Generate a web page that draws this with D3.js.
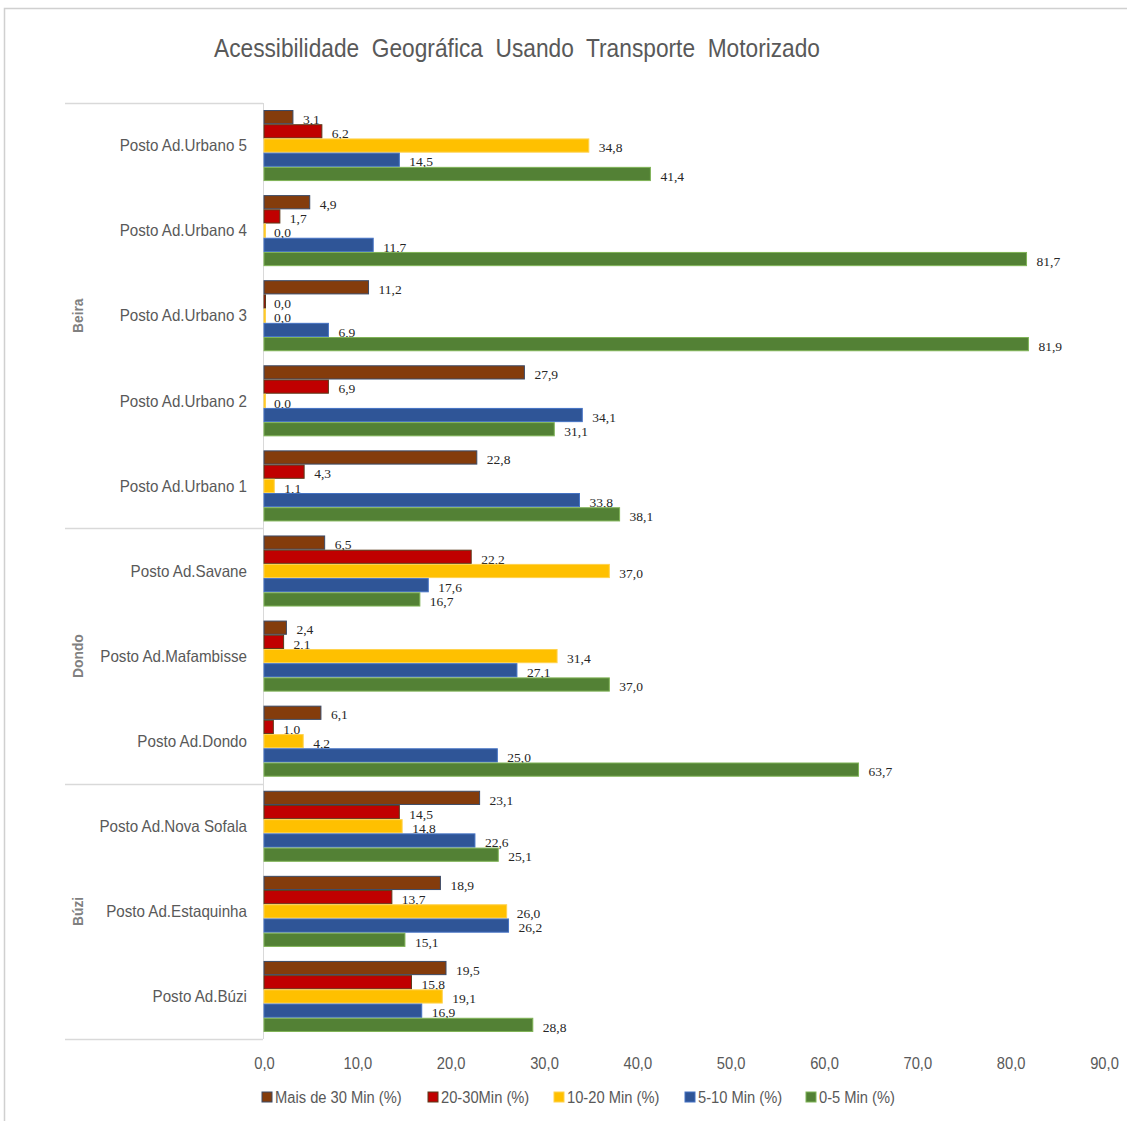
<!DOCTYPE html>
<html><head><meta charset="utf-8">
<script src="https://cdn.jsdelivr.net/npm/d3@7"></script>
<style>
body{margin:0;background:#fff;}
svg{display:block;}
</style></head><body>
<svg id="chart" width="1127" height="1121"></svg>
<script>
const title = "Acessibilidade  Geográfica  Usando  Transporte  Motorizado";
const categories = ["Posto Ad.Urbano 5","Posto Ad.Urbano 4","Posto Ad.Urbano 3","Posto Ad.Urbano 2","Posto Ad.Urbano 1","Posto Ad.Savane","Posto Ad.Mafambisse","Posto Ad.Dondo","Posto Ad.Nova Sofala","Posto Ad.Estaquinha","Posto Ad.Búzi"];
const groups = [{name:"Beira", first:0, last:4},{name:"Dondo", first:5, last:7},{name:"Búzi", first:8, last:10}];
const seriesNames = ["Mais de 30 Min (%)","20-30Min (%)","10-20 Min (%)","5-10 Min (%)","0-5 Min (%)"];
const mais30 = [3.1,4.9,11.2,27.9,22.8,6.5,2.4,6.1,23.1,18.9,19.5];
const min20_30 = [6.2,1.7,0.0,6.9,4.3,22.2,2.1,1.0,14.5,13.7,15.8];
const min10_20 = [34.8,0.0,0.0,0.0,1.1,37.0,31.4,4.2,14.8,26.0,19.1];
const min5_10 = [14.5,11.7,6.9,34.1,33.8,17.6,27.1,25.0,22.6,26.2,16.9];
const min0_5 = [41.4,81.7,81.9,31.1,38.1,16.7,37.0,63.7,25.1,15.1,28.8];
const seriesValues = [mais30,min20_30,min10_20,min5_10,min0_5];
const xTicks = [0,10,20,30,40,50,60,70,80,90];
const colors = ["#843C0C","#C00000","#FFC000","#2F5597","#538135"];
const strokes = ["#3B4A66","#5a3a1a","#FFD24D","#4472C4","#7FB356"];

const svg = d3.select("#chart");
const sans = "'Liberation Sans','Arial',sans-serif";
const grey = "#595959";
const sx = 0.92; // horizontal condensing of sans text

svg.append("rect").attr("x",4.5).attr("y",8.5).attr("width",1130).attr("height",1120)
  .attr("fill","none").attr("stroke","#d0d0d0").attr("stroke-width",1.5);

svg.append("text").attr("x",517).attr("y",57).attr("text-anchor","middle")
  .attr("font-family",sans).attr("font-size",25).attr("fill",grey)
  .attr("textLength",606).attr("lengthAdjust","spacingAndGlyphs")
  .style("white-space","pre").text(title);

const x = d3.scaleLinear().domain([0,90]).range([264,1104]);
const y = d3.scaleBand().domain(categories).range([103,1039]).paddingInner(0.165).paddingOuter(0.0825);
const ys = d3.scaleBand().domain(d3.range(5)).range([0,y.bandwidth()]);

svg.append("line").attr("x1",263.5).attr("x2",263.5).attr("y1",103).attr("y2",1039)
  .attr("stroke","#d9d9d9").attr("stroke-width",1);

const bounds = [103, y(categories[5]) - y.step()*y.paddingInner()/2, y(categories[8]) - y.step()*y.paddingInner()/2, 1039];
bounds.forEach(b=>{
  svg.append("line").attr("x1",65).attr("x2",263).attr("y1",Math.round(b)+0.5).attr("y2",Math.round(b)+0.5)
    .attr("stroke","#d9d9d9").attr("stroke-width",1.5);
});

groups.forEach(g=>{
  const cy = (y(categories[g.first]) + y(categories[g.last]) + y.bandwidth())/2;
  svg.append("text").attr("transform",`translate(83,${cy}) rotate(-90) scale(${sx},1)`).attr("text-anchor","middle")
    .attr("font-family",sans).attr("font-size",15).attr("font-weight","bold").attr("fill","#808080").text(g.name);
});

svg.append("g").attr("transform",`scale(${sx},1)`).selectAll("text").data(categories).join("text")
  .attr("x",247/sx).attr("y",d=>y(d)+y.bandwidth()/2).attr("dy","0.35em").attr("text-anchor","end")
  .attr("font-family",sans).attr("font-size",16.5).attr("fill",grey).text(d=>d);

const gBars = svg.append("g");
seriesValues.forEach((vals,si)=>{
  gBars.append("g").selectAll("rect").data(vals).join("rect")
    .attr("x",x(0)).attr("y",(d,i)=>y(categories[i])+ys(si)+0.5)
    .attr("width",d=>Math.max(x(d)-x(0),d===0?1.5:0)).attr("height",ys.bandwidth()-1)
    .attr("fill",colors[si]).attr("stroke",strokes[si]).attr("stroke-width",1);
  gBars.append("g").selectAll("text").data(vals).join("text")
    .attr("x",d=>x(d)+10).attr("y",(d,i)=>y(categories[i])+ys(si)+ys.bandwidth()/2+2)
    .attr("dy","0.35em").attr("font-family","'Liberation Serif','Times New Roman',serif")
    .attr("font-size",13.5).attr("fill","#262626")
    .text(d=>d.toFixed(1).replace(".",","));
});

const xAxis = d3.axisBottom(x).tickValues(xTicks).tickSize(0).tickFormat(d=>d.toFixed(1).replace(".",","));
const ax = svg.append("g").attr("transform","translate(0,1055)").call(xAxis);
ax.select(".domain").remove();
ax.selectAll("text").attr("font-family",sans).attr("font-size",16).attr("fill",grey)
  .attr("transform",`scale(${sx},1)`).attr("x",0);

const legendX = [262,428,554,685,806];
const lg = svg.append("g").selectAll("g").data(seriesNames).join("g")
  .attr("transform",(d,i)=>`translate(${legendX[i]},1097)`);
lg.append("rect").attr("x",0).attr("y",-5).attr("width",10).attr("height",10)
  .attr("fill",(d,i)=>colors[i]).attr("stroke",(d,i)=>strokes[i]);
lg.append("text").attr("transform",`translate(13,0) scale(${sx},1)`).attr("dy","0.35em")
  .attr("font-family",sans).attr("font-size",16).attr("fill",grey).text(d=>d);
</script>
</body></html>
